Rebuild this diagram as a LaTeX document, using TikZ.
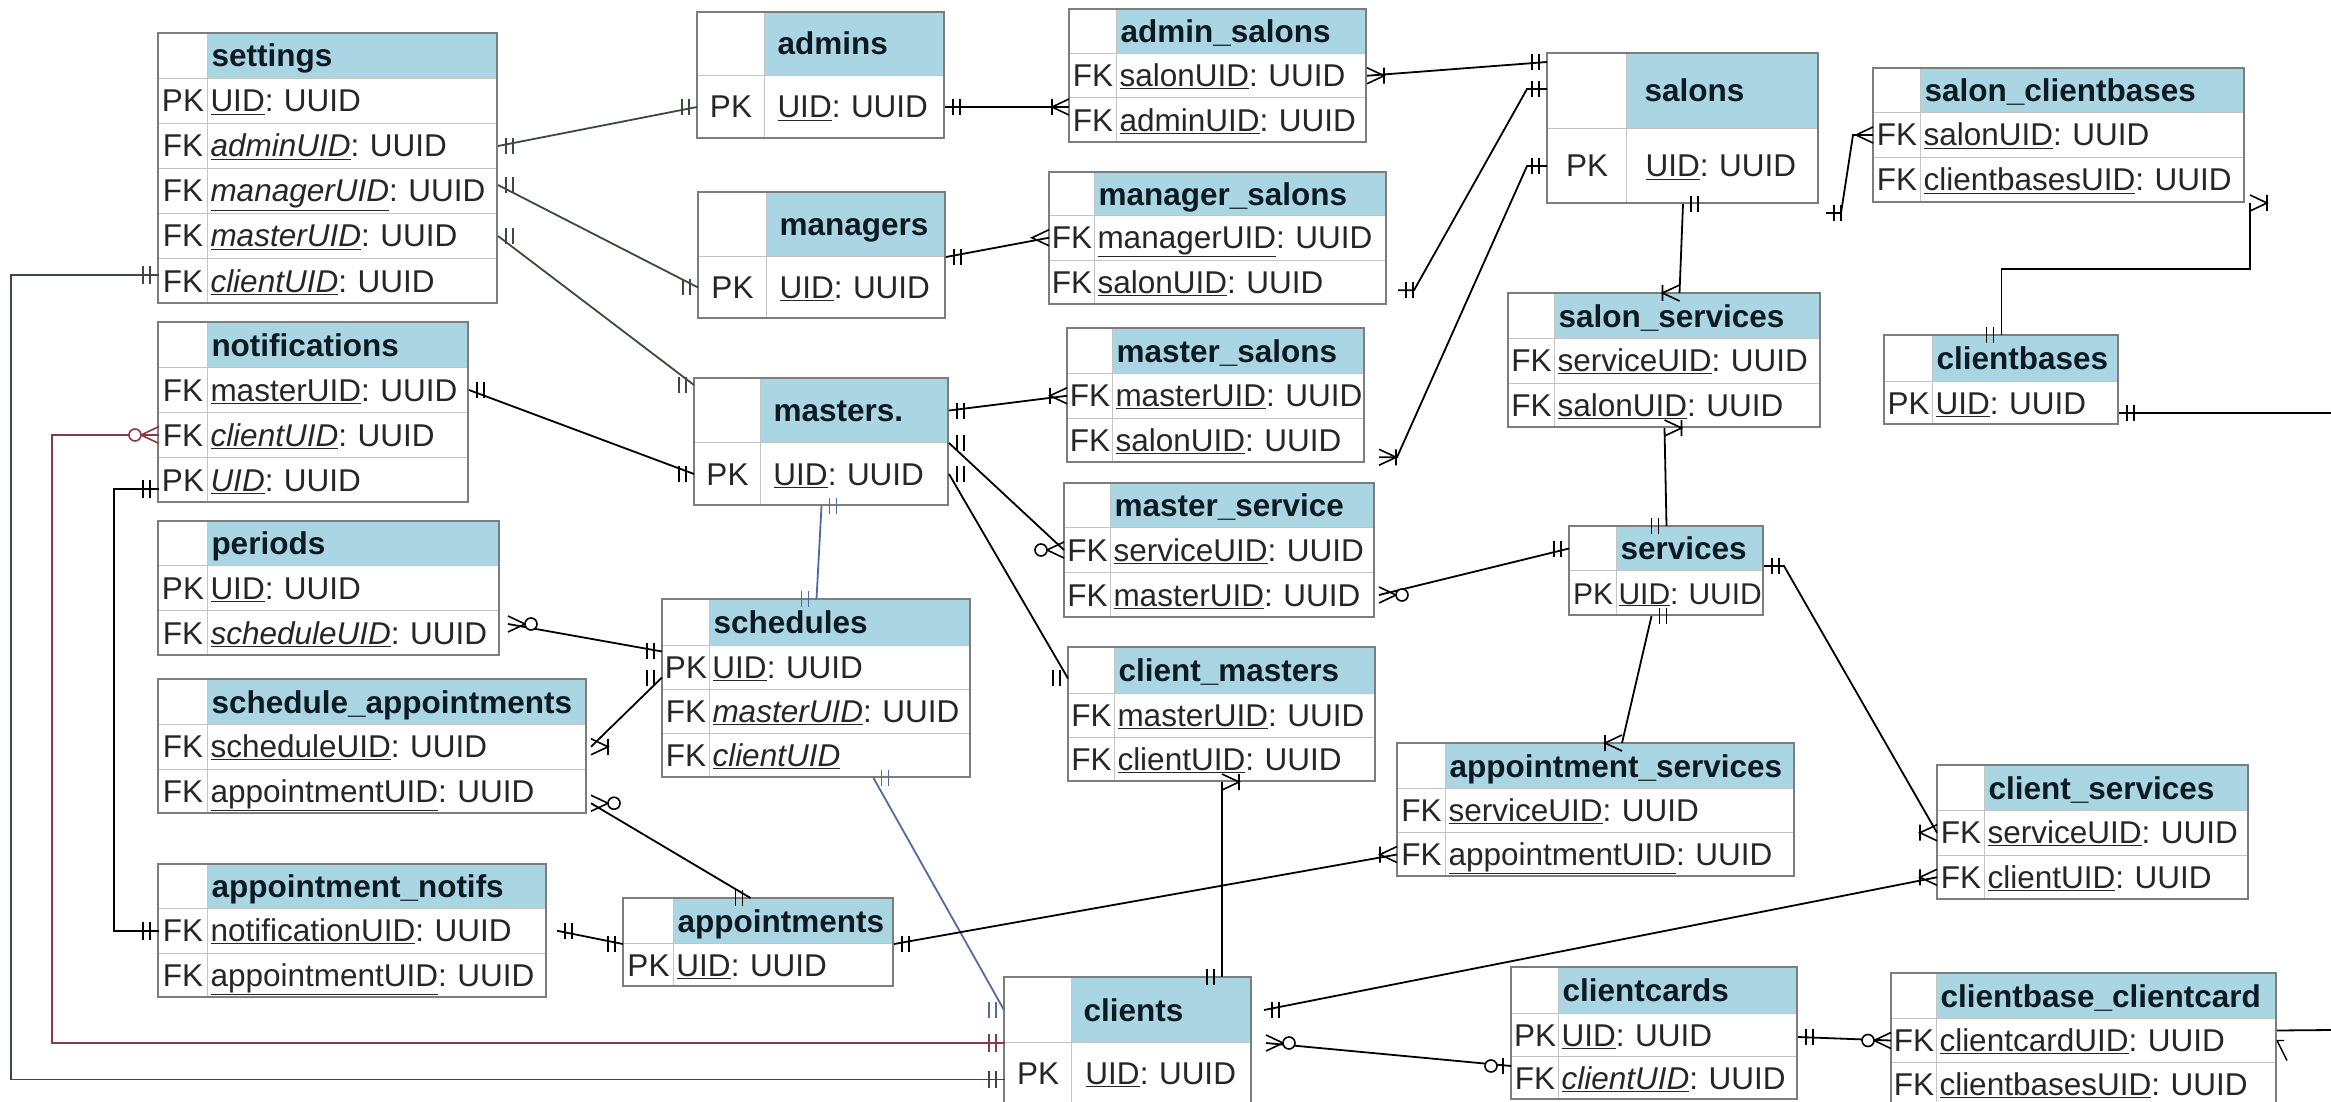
\documentclass[tikz,border=0pt]{standalone}
\usepackage{fontspec}
\setmainfont{Liberation Sans}
\usetikzlibrary{decorations.markings}
\definecolor{hbg}{RGB}{170,214,228}
\definecolor{sepgray}{RGB}{196,196,196}
\definecolor{framegray}{RGB}{125,125,125}
\definecolor{txtgray}{RGB}{38,38,38}
\definecolor{titlecol}{RGB}{14,26,34}
\definecolor{setline}{RGB}{60,74,62}
\definecolor{bluline}{RGB}{82,106,162}
\definecolor{marline}{RGB}{138,58,66}

\begin{document}
\begin{tikzpicture}[x=1pt,y=-1pt,
  thead/.style={draw=sepgray,line width=1pt,anchor=north west,inner sep=0pt,align=left,
    minimum height=45pt,text height=30pt,text depth=8pt,text=titlecol,
    font=\fontsize{31.5}{36}\selectfont\bfseries},
  trow/.style={draw=sepgray,line width=1pt,anchor=north west,inner sep=0pt,align=left,
    minimum height=45pt,text height=30pt,text depth=8pt,text=txtgray,
    font=\fontsize{31.5}{36}\selectfont},
  keyline/.style={draw=sepgray,line width=1pt},
  tframe/.style={draw=framegray,line width=1.5pt},
  rel/.style={line width=1.8pt,color=black},
  grn/.style={line width=1.8pt,color=setline},
  blu/.style={line width=1.8pt,color=bluline},
  mar/.style={line width=1.8pt,color=marline},
  tip end/.style={postaction={decorate,decoration={markings,
    mark=at position 1 with {\pic{#1};}}}},
  tip start/.style={postaction={decorate,decoration={markings,
    mark=at position 0 with {\pic[rotate=180]{#1};}}}},
  both one/.style={tip start=erone,tip end=erone},
  erone/.pic={\draw[line width=1.6pt] (-8,-8) -- (-8,8) (-15,-8) -- (-15,8);},
  ermany/.pic={\draw[line width=1.6pt] (0,-8) -- (-17,0) -- (0,8);},
  eronemany/.pic={\draw[line width=1.6pt] (0,-8) -- (-17,0) -- (0,8) (-17,-8) -- (-17,8);},
  erzeromany/.pic={\draw[line width=1.6pt] (0,-8) -- (-17,0) -- (0,8);
    \draw[line width=1.6pt,fill=white] (-23,0) circle (6);},
  erzeroone/.pic={\draw[line width=1.6pt] (-8,-8) -- (-8,8);
    \draw[line width=1.6pt,fill=white] (-20,0) circle (6);}]
\useasboundingbox (0,0) rectangle (2331,1102);
\fill[white] (0,0) rectangle (2331,1102);

% settings
\begin{scope}[every node/.append style={text width=339pt}]
\fill[hbg] (207,33) rectangle (497,78);
\node[thead] (settings) at (158,33) {\makebox[49pt]{}\hspace{4pt}settings};
\node[trow] (set-uid) at (158,78) {\makebox[49pt]{PK}\hspace{3pt}\underline{UID}:~UUID};
\node[trow] (set-admin) at (158,123) {\makebox[49pt]{FK}\hspace{3pt}\underline{\textit{adminUID}}:~UUID};
\node[trow] (set-manager) at (158,168) {\makebox[49pt]{FK}\hspace{3pt}\underline{\textit{managerUID}}:~UUID};
\node[trow] (set-master) at (158,213) {\makebox[49pt]{FK}\hspace{3pt}\underline{\textit{masterUID}}:~UUID};
\node[trow] (set-client) at (158,258) {\makebox[49pt]{FK}\hspace{3pt}\underline{\textit{clientUID}}:~UUID};
\draw[keyline] (207,33) -- (207,303);
\draw[tframe] (158,33) rectangle (497,303);
\end{scope}

% notifications
\begin{scope}[every node/.append style={text width=310pt}]
\fill[hbg] (207,322) rectangle (468,367);
\node[thead] (notif) at (158,322) {\makebox[49pt]{}\hspace{4pt}notifications};
\node[trow] (notif-master) at (158,367) {\makebox[49pt]{FK}\hspace{3pt}\underline{masterUID}:~UUID};
\node[trow] (notif-client) at (158,412) {\makebox[49pt]{FK}\hspace{3pt}\underline{\textit{clientUID}}:~UUID};
\node[trow] (notif-uid) at (158,457) {\makebox[49pt]{PK}\hspace{3pt}\underline{\textit{UID}}:~UUID};
\draw[keyline] (207,322) -- (207,502);
\draw[tframe] (158,322) rectangle (468,502);
\end{scope}

% periods
\begin{scope}[every node/.append style={text width=341pt}]
\fill[hbg] (207,521) rectangle (499,565);
\node[thead,minimum height=44pt] (periods) at (158,521) {\makebox[49pt]{}\hspace{4pt}periods};
\node[trow] (per-uid) at (158,565) {\makebox[49pt]{PK}\hspace{3pt}\underline{UID}:~UUID};
\node[trow] (per-sched) at (158,610) {\makebox[49pt]{FK}\hspace{3pt}\underline{\textit{scheduleUID}}:~UUID};
\draw[keyline] (207,521) -- (207,655);
\draw[tframe] (158,521) rectangle (499,655);
\end{scope}

% schedule_appointments
\begin{scope}[every node/.append style={text width=428pt}]
\fill[hbg] (207,679) rectangle (586,724);
\node[thead] (schapp) at (158,679) {\makebox[49pt]{}\hspace{4pt}schedule\_appointments};
\node[trow,minimum height=44.5pt] (schapp-sched) at (158,724) {\makebox[49pt]{FK}\hspace{3pt}\underline{scheduleUID}:~UUID};
\node[trow,minimum height=44.5pt] (schapp-appt) at (158,768.5) {\makebox[49pt]{FK}\hspace{3pt}\underline{appointmentUID}:~UUID};
\draw[keyline] (207,679) -- (207,813);
\draw[tframe] (158,679) rectangle (586,813);
\end{scope}

% appointment_notifs
\begin{scope}[every node/.append style={text width=388pt}]
\fill[hbg] (207,864) rectangle (546,908);
\node[thead,minimum height=44pt] (apnot) at (158,864) {\makebox[49pt]{}\hspace{4pt}appointment\_notifs};
\node[trow,minimum height=44.5pt] (apnot-notif) at (158,908) {\makebox[49pt]{FK}\hspace{3pt}\underline{notificationUID}:~UUID};
\node[trow,minimum height=44.5pt] (apnot-appt) at (158,952.5) {\makebox[49pt]{FK}\hspace{3pt}\underline{appointmentUID}:~UUID};
\draw[keyline] (207,864) -- (207,997);
\draw[tframe] (158,864) rectangle (546,997);
\end{scope}

% admins
\begin{scope}[every node/.append style={text width=247pt}]
\fill[hbg] (764,12) rectangle (944,75);
\node[thead,minimum height=63pt] (admins) at (697,12) {\makebox[67pt]{}\hspace{13pt}admins};
\node[trow,minimum height=63pt] (admins-uid) at (697,75) {\makebox[67pt]{PK}\hspace{13pt}\underline{UID}:~UUID};
\draw[keyline] (764,12) -- (764,138);
\draw[tframe] (697,12) rectangle (944,138);
\end{scope}

% managers
\begin{scope}[every node/.append style={text width=247pt}]
\fill[hbg] (766,192) rectangle (945,256);
\node[thead,minimum height=64pt] (managers) at (698,192) {\makebox[68pt]{}\hspace{13pt}managers};
\node[trow,minimum height=62pt] (managers-uid) at (698,256) {\makebox[68pt]{PK}\hspace{13pt}\underline{UID}:~UUID};
\draw[keyline] (766,192) -- (766,318);
\draw[tframe] (698,192) rectangle (945,318);
\end{scope}

% admin_salons
\begin{scope}[every node/.append style={text width=297pt}]
\fill[hbg] (1116,9) rectangle (1366,53);
\node[thead,minimum height=44pt] (adsal) at (1069,9) {\makebox[47pt]{}\hspace{4pt}admin\_salons};
\node[trow,minimum height=44.5pt] (adsal-salon) at (1069,53) {\makebox[47pt]{FK}\hspace{3pt}\underline{salonUID}:~UUID};
\node[trow,minimum height=44.5pt] (adsal-admin) at (1069,97.5) {\makebox[47pt]{FK}\hspace{3pt}\underline{adminUID}:~UUID};
\draw[keyline] (1116,9) -- (1116,142);
\draw[tframe] (1069,9) rectangle (1366,142);
\end{scope}

% manager_salons
\begin{scope}[every node/.append style={text width=337pt}]
\fill[hbg] (1094,172) rectangle (1386,215);
\node[thead,minimum height=43pt] (mgsal) at (1049,172) {\makebox[45pt]{}\hspace{4pt}manager\_salons};
\node[trow,minimum height=44.5pt] (mgsal-manager) at (1049,215) {\makebox[45pt]{FK}\hspace{3pt}\underline{managerUID}:~UUID};
\node[trow,minimum height=44.5pt] (mgsal-salon) at (1049,259.5) {\makebox[45pt]{FK}\hspace{3pt}\underline{salonUID}:~UUID};
\draw[keyline] (1094,172) -- (1094,304);
\draw[tframe] (1049,172) rectangle (1386,304);
\end{scope}

% master_salons
\begin{scope}[every node/.append style={text width=297pt}]
\fill[hbg] (1112,328) rectangle (1364,373);
\node[thead] (msal) at (1067,328) {\makebox[45pt]{}\hspace{4pt}master\_salons};
\node[trow,minimum height=44.5pt] (msal-master) at (1067,373) {\makebox[45pt]{FK}\hspace{3pt}\underline{masterUID}:~UUID};
\node[trow,minimum height=44.5pt] (msal-salon) at (1067,417.5) {\makebox[45pt]{FK}\hspace{3pt}\underline{salonUID}:~UUID};
\draw[keyline] (1112,328) -- (1112,462);
\draw[tframe] (1067,328) rectangle (1364,462);
\end{scope}

% masters.
\begin{scope}[every node/.append style={text width=254pt}]
\fill[hbg] (760,378) rectangle (948,442);
\node[thead,minimum height=64pt] (masters) at (694,378) {\makebox[66pt]{}\hspace{13pt}masters.};
\node[trow,minimum height=63pt] (masters-uid) at (694,442) {\makebox[66pt]{PK}\hspace{13pt}\underline{UID}:~UUID};
\draw[keyline] (760,378) -- (760,505);
\draw[tframe] (694,378) rectangle (948,505);
\end{scope}

% master_service
\begin{scope}[every node/.append style={text width=310pt}]
\fill[hbg] (1110,483) rectangle (1374,527);
\node[thead,minimum height=44pt] (mserv) at (1064,483) {\makebox[46pt]{}\hspace{4pt}master\_service};
\node[trow] (mserv-serv) at (1064,527) {\makebox[46pt]{FK}\hspace{3pt}\underline{serviceUID}:~UUID};
\node[trow] (mserv-master) at (1064,572) {\makebox[46pt]{FK}\hspace{3pt}\underline{masterUID}:~UUID};
\draw[keyline] (1110,483) -- (1110,617);
\draw[tframe] (1064,483) rectangle (1374,617);
\end{scope}

% client_masters
\begin{scope}[every node/.append style={text width=307pt}]
\fill[hbg] (1114,647) rectangle (1375,693);
\node[thead,minimum height=46pt] (clmas) at (1068,647) {\makebox[46pt]{}\hspace{4pt}client\_masters};
\node[trow,minimum height=44pt] (clmas-master) at (1068,693) {\makebox[46pt]{FK}\hspace{3pt}\underline{masterUID}:~UUID};
\node[trow,minimum height=44pt] (clmas-client) at (1068,737) {\makebox[46pt]{FK}\hspace{3pt}\underline{clientUID}:~UUID};
\draw[keyline] (1114,647) -- (1114,781);
\draw[tframe] (1068,647) rectangle (1375,781);
\end{scope}

% schedules
\begin{scope}[every node/.append style={text width=308pt}]
\fill[hbg] (709,599) rectangle (970,645);
\node[thead,minimum height=46pt] (sched) at (662,599) {\makebox[47pt]{}\hspace{4pt}schedules};
\node[trow,minimum height=44pt] (sched-uid) at (662,645) {\makebox[47pt]{PK}\hspace{3pt}\underline{UID}:~UUID};
\node[trow,minimum height=44pt] (sched-master) at (662,689) {\makebox[47pt]{FK}\hspace{3pt}\underline{\textit{masterUID}}:~UUID};
\node[trow,minimum height=44pt] (sched-client) at (662,733) {\makebox[47pt]{FK}\hspace{3pt}\underline{\textit{clientUID}}};
\draw[keyline] (709,599) -- (709,777);
\draw[tframe] (662,599) rectangle (970,777);
\end{scope}

% appointments
\begin{scope}[every node/.append style={text width=270pt}]
\fill[hbg] (673,898) rectangle (893,943);
\node[thead] (appts) at (623,898) {\makebox[50pt]{}\hspace{4pt}appointments};
\node[trow,minimum height=43pt] (appts-uid) at (623,943) {\makebox[50pt]{PK}\hspace{3pt}\underline{UID}:~UUID};
\draw[keyline] (673,898) -- (673,986);
\draw[tframe] (623,898) rectangle (893,986);
\end{scope}

% clients
\begin{scope}[every node/.append style={text width=247pt}]
\fill[hbg] (1071,977) rectangle (1251,1042);
\node[thead,minimum height=65pt] (clients) at (1004,977) {\makebox[67pt]{}\hspace{12pt}clients};
\node[trow,minimum height=62pt] (clients-uid) at (1004,1042) {\makebox[67pt]{PK}\hspace{14pt}\underline{UID}:~UUID};
\draw[keyline] (1071,977) -- (1071,1104);
\draw[tframe] (1004,977) rectangle (1251,1104);
\end{scope}

% salons
\begin{scope}[every node/.append style={text width=271pt}]
\fill[hbg] (1626,53) rectangle (1818,128);
\node[thead,minimum height=75pt] (salons) at (1547,53) {\makebox[79pt]{}\hspace{18pt}salons};
\node[trow,minimum height=75pt] (salons-uid) at (1547,128) {\makebox[79pt]{PK}\hspace{19pt}\underline{UID}:~UUID};
\draw[keyline] (1626,53) -- (1626,203);
\draw[tframe] (1547,53) rectangle (1818,203);
\end{scope}

% salon_services
\begin{scope}[every node/.append style={text width=312pt}]
\fill[hbg] (1554,293) rectangle (1820,338);
\node[thead] (salserv) at (1508,293) {\makebox[46pt]{}\hspace{4pt}salon\_services};
\node[trow,minimum height=44.5pt] (salserv-serv) at (1508,338) {\makebox[46pt]{FK}\hspace{3pt}\underline{serviceUID}:~UUID};
\node[trow,minimum height=44.5pt] (salserv-salon) at (1508,382.5) {\makebox[46pt]{FK}\hspace{3pt}\underline{salonUID}:~UUID};
\draw[keyline] (1554,293) -- (1554,427);
\draw[tframe] (1508,293) rectangle (1820,427);
\end{scope}

% services
\begin{scope}[every node/.append style={text width=194pt}]
\fill[hbg] (1616,526) rectangle (1763,570);
\node[thead,minimum height=44pt] (services) at (1569,526) {\makebox[47pt]{}\hspace{4pt}services};
\node[trow,font=\fontsize{30}{36}\selectfont] (services-uid) at (1569,570) {\makebox[47pt]{PK}\hspace{2pt}\underline{UID}:~UUID};
\draw[keyline] (1616,526) -- (1616,615);
\draw[tframe] (1569,526) rectangle (1763,615);
\end{scope}

% salon_clientbases
\begin{scope}[every node/.append style={text width=371pt}]
\fill[hbg] (1920,68) rectangle (2244,112);
\node[thead,minimum height=44pt] (salcb) at (1873,68) {\makebox[47pt]{}\hspace{4pt}salon\_clientbases};
\node[trow] (salcb-salon) at (1873,112) {\makebox[47pt]{FK}\hspace{3pt}\underline{salonUID}:~UUID};
\node[trow] (salcb-cb) at (1873,157) {\makebox[47pt]{FK}\hspace{3pt}\underline{clientbasesUID}:~UUID};
\draw[keyline] (1920,68) -- (1920,202);
\draw[tframe] (1873,68) rectangle (2244,202);
\end{scope}

% clientbases
\begin{scope}[every node/.append style={text width=234pt}]
\fill[hbg] (1932,335) rectangle (2118,381);
\node[thead,minimum height=46pt] (clb) at (1884,335) {\makebox[48pt]{}\hspace{4pt}clientbases};
\node[trow,minimum height=43pt] (clb-uid) at (1884,381) {\makebox[48pt]{PK}\hspace{3pt}\underline{UID}:~UUID};
\draw[keyline] (1932,335) -- (1932,424);
\draw[tframe] (1884,335) rectangle (2118,424);
\end{scope}

% appointment_services
\begin{scope}[every node/.append style={text width=397pt}]
\fill[hbg] (1445,743) rectangle (1794,788);
\node[thead] (apserv) at (1397,743) {\makebox[48pt]{}\hspace{4pt}appointment\_services};
\node[trow,minimum height=44pt] (apserv-serv) at (1397,788) {\makebox[48pt]{FK}\hspace{3pt}\underline{serviceUID}:~UUID};
\node[trow,minimum height=44pt] (apserv-appt) at (1397,832) {\makebox[48pt]{FK}\hspace{3pt}\underline{appointmentUID}:~UUID};
\draw[keyline] (1445,743) -- (1445,876);
\draw[tframe] (1397,743) rectangle (1794,876);
\end{scope}

% client_services
\begin{scope}[every node/.append style={text width=311pt}]
\fill[hbg] (1984,765) rectangle (2248,810);
\node[thead] (clserv) at (1937,765) {\makebox[47pt]{}\hspace{4pt}client\_services};
\node[trow,minimum height=44.5pt] (clserv-serv) at (1937,810) {\makebox[47pt]{FK}\hspace{3pt}\underline{serviceUID}:~UUID};
\node[trow,minimum height=44.5pt] (clserv-client) at (1937,854.5) {\makebox[47pt]{FK}\hspace{3pt}\underline{clientUID}:~UUID};
\draw[keyline] (1984,765) -- (1984,899);
\draw[tframe] (1937,765) rectangle (2248,899);
\end{scope}

% clientcards
\begin{scope}[every node/.append style={text width=286pt}]
\fill[hbg] (1558,967) rectangle (1797,1013);
\node[thead,minimum height=46pt] (ccards) at (1511,967) {\makebox[47pt]{}\hspace{4pt}clientcards};
\node[trow,minimum height=43pt] (ccards-uid) at (1511,1013) {\makebox[47pt]{PK}\hspace{3pt}\underline{UID}:~UUID};
\node[trow,minimum height=43pt] (ccards-client) at (1511,1056) {\makebox[47pt]{FK}\hspace{3pt}\underline{\textit{clientUID}}:~UUID};
\draw[keyline] (1558,967) -- (1558,1099);
\draw[tframe] (1511,967) rectangle (1797,1099);
\end{scope}

% clientbase_clientcard
\begin{scope}[every node/.append style={text width=385pt}]
\fill[hbg] (1936,973) rectangle (2276,1018);
\node[thead] (cbcc) at (1891,973) {\makebox[45pt]{}\hspace{4pt}clientbase\_clientcard};
\node[trow,minimum height=44pt] (cbcc-card) at (1891,1018) {\makebox[45pt]{FK}\hspace{3pt}\underline{clientcardUID}:~UUID};
\node[trow,minimum height=44pt] (cbcc-cb) at (1891,1062) {\makebox[45pt]{FK}\hspace{3pt}\underline{clientbasesUID}:~UUID};
\draw[keyline] (1936,973) -- (1936,1106);
\draw[tframe] (1891,973) rectangle (2276,1106);
\end{scope}

% links from settings
\draw[grn,both one] (set-admin.east) -- (admins-uid.west);
\draw[grn,both one] ([yshift=6pt]set-manager.east) -- (managers-uid.west);
\draw[grn,both one] (set-master.east) -- ([yshift=-7pt]masters.north west);
\draw[grn,line cap=rect,tip end=erone] ([xshift=-147pt,yshift=6pt]set-client.west) -- ([yshift=6pt]set-client.west);
\draw[grn,line cap=rect,tip end=erone] ([xshift=-147pt,yshift=6pt]set-client.west) |- ([yshift=-6pt]clients-uid.west);

% links from notifications
\draw[rel,both one] (notif-master.east) -- (masters-uid.west);
\draw[mar,line cap=rect,tip end=erzeromany] ([xshift=-106pt]notif-client.west) -- (notif-client.west);
\draw[mar,line cap=rect,tip end=erone] ([xshift=-106pt]notif-client.west) |- (clients.south west);
\draw[rel,line cap=rect,tip end=erone] ([xshift=-44pt,yshift=-9pt]notif-uid.west) -- ([yshift=-9pt]notif-uid.west);
\draw[rel,line cap=rect,tip end=erone] ([xshift=-44pt,yshift=-9pt]notif-uid.west) |- (apnot-notif.west);

% schedules and appointments
\draw[rel,tip start=erzeromany,tip end=erone] ([xshift=8pt,yshift=9pt]per-sched.east) -- ([yshift=16pt]sched-uid.west);
\draw[rel,tip start=eronemany,tip end=erone] ([xshift=4pt]schapp-sched.east) -- ([yshift=-10pt]sched-uid.west);
\draw[rel,tip start=erzeromany,tip end=erone] ([xshift=4pt,yshift=-12pt]schapp-appt.east) -- ([xshift=-8pt]appts.north);
\draw[rel,both one] ([xshift=10pt]apnot-notif.east) -- (appts.south west);
\draw[blu,both one] (masters-uid.south) -- (sched.north);
\draw[blu,both one] ([xshift=57pt]sched-client.south) -- (clients.west);

% masters
\draw[rel,tip start=erone,tip end=eronemany] (masters.east) -- (msal-master.west);
\draw[rel,tip start=erone,tip end=erzeromany] (masters.south east) -- (mserv-serv.west);
\draw[rel,both one] (masters-uid.east) -- ([yshift=-8pt]clmas.west);

% admins, managers
\draw[rel,tip start=erone,tip end=eronemany] (admins-uid.east) -- (admins-uid.east -| adsal.west);
\draw[rel,tip start=erone,tip end=ermany] (managers.south east) -- (mgsal-manager.west);

% salons
\draw[rel,tip start=eronemany,tip end=erone] (adsal-salon.east) -- ([yshift=-9pt]salons.north west);
\draw[rel,both one] ([xshift=11pt,yshift=-8pt]mgsal-salon.east) -- ++(16,0) -- ([xshift=-20pt,yshift=-36pt]salons.north west) -- ([yshift=-36pt]salons.north west);
\draw[rel,tip start=eronemany,tip end=erone] ([xshift=14pt,yshift=-17pt]msal-salon.east) -- ++(18,0) -- ([xshift=-20pt]salons-uid.west) -- (salons-uid.west);
\draw[rel,tip start=erone,tip end=eronemany] (salons-uid.south) -- ([xshift=15pt]salserv.north);
\draw[rel,tip start=erone,tip end=ermany] ([xshift=7pt,yshift=-9pt]salons-uid.south east) -- ++(15,0) -- ([xshift=-20pt]salcb-salon.west) -- (salcb-salon.west);
\draw[rel,tip start=eronemany,tip end=erone] ([xshift=5pt]salcb-cb.south east) -- ++(0,66) -| (clb.north);
\coordinate (offR1) at (2331,413);
\draw[rel,tip start=erone] ([yshift=-10pt]clb-uid.east) -- (offR1);

% services
\draw[rel,tip start=eronemany,tip end=erone] (salserv-salon.south) -- (services.north);
\draw[rel,tip start=erzeromany,tip end=erone] ([xshift=4pt]mserv-master.east) -- (services.west);
\draw[rel,tip start=erone,tip end=eronemany] ([xshift=-15pt]services-uid.south) -- ([xshift=26pt]apserv.north);
\draw[rel,tip start=erone,tip end=eronemany] ([yshift=5pt]services.south east) -- ++(20,0) -- (clserv-serv.west);

% clients
\draw[rel,tip start=eronemany,tip end=erone] (clmas-client.south) -- (clmas-client.south |- clients.north);
\draw[rel,tip start=erone,tip end=eronemany] (appts.south east) -- (apserv-appt.west);
\draw[rel,tip start=erone,tip end=eronemany] ([xshift=12pt]clients.east) -- (clserv-client.west);
\draw[rel,tip start=erzeromany,tip end=erzeroone] ([xshift=14pt]clients.south east) -- ([yshift=12pt]ccards-client.west);
\draw[rel,tip start=erone,tip end=erzeromany] ([yshift=-2pt]ccards-uid.east) -- (cbcc-card.west);
\coordinate (offR2) at (2331,1030);
\draw[rel] ([yshift=10pt]cbcc-card.east) -- (offR2);
\draw[rel,line width=1.4pt] (cbcc-card.east) -- ++(7,0) (cbcc-card.east) -- ++(10,20);
\end{tikzpicture}
\end{document}
